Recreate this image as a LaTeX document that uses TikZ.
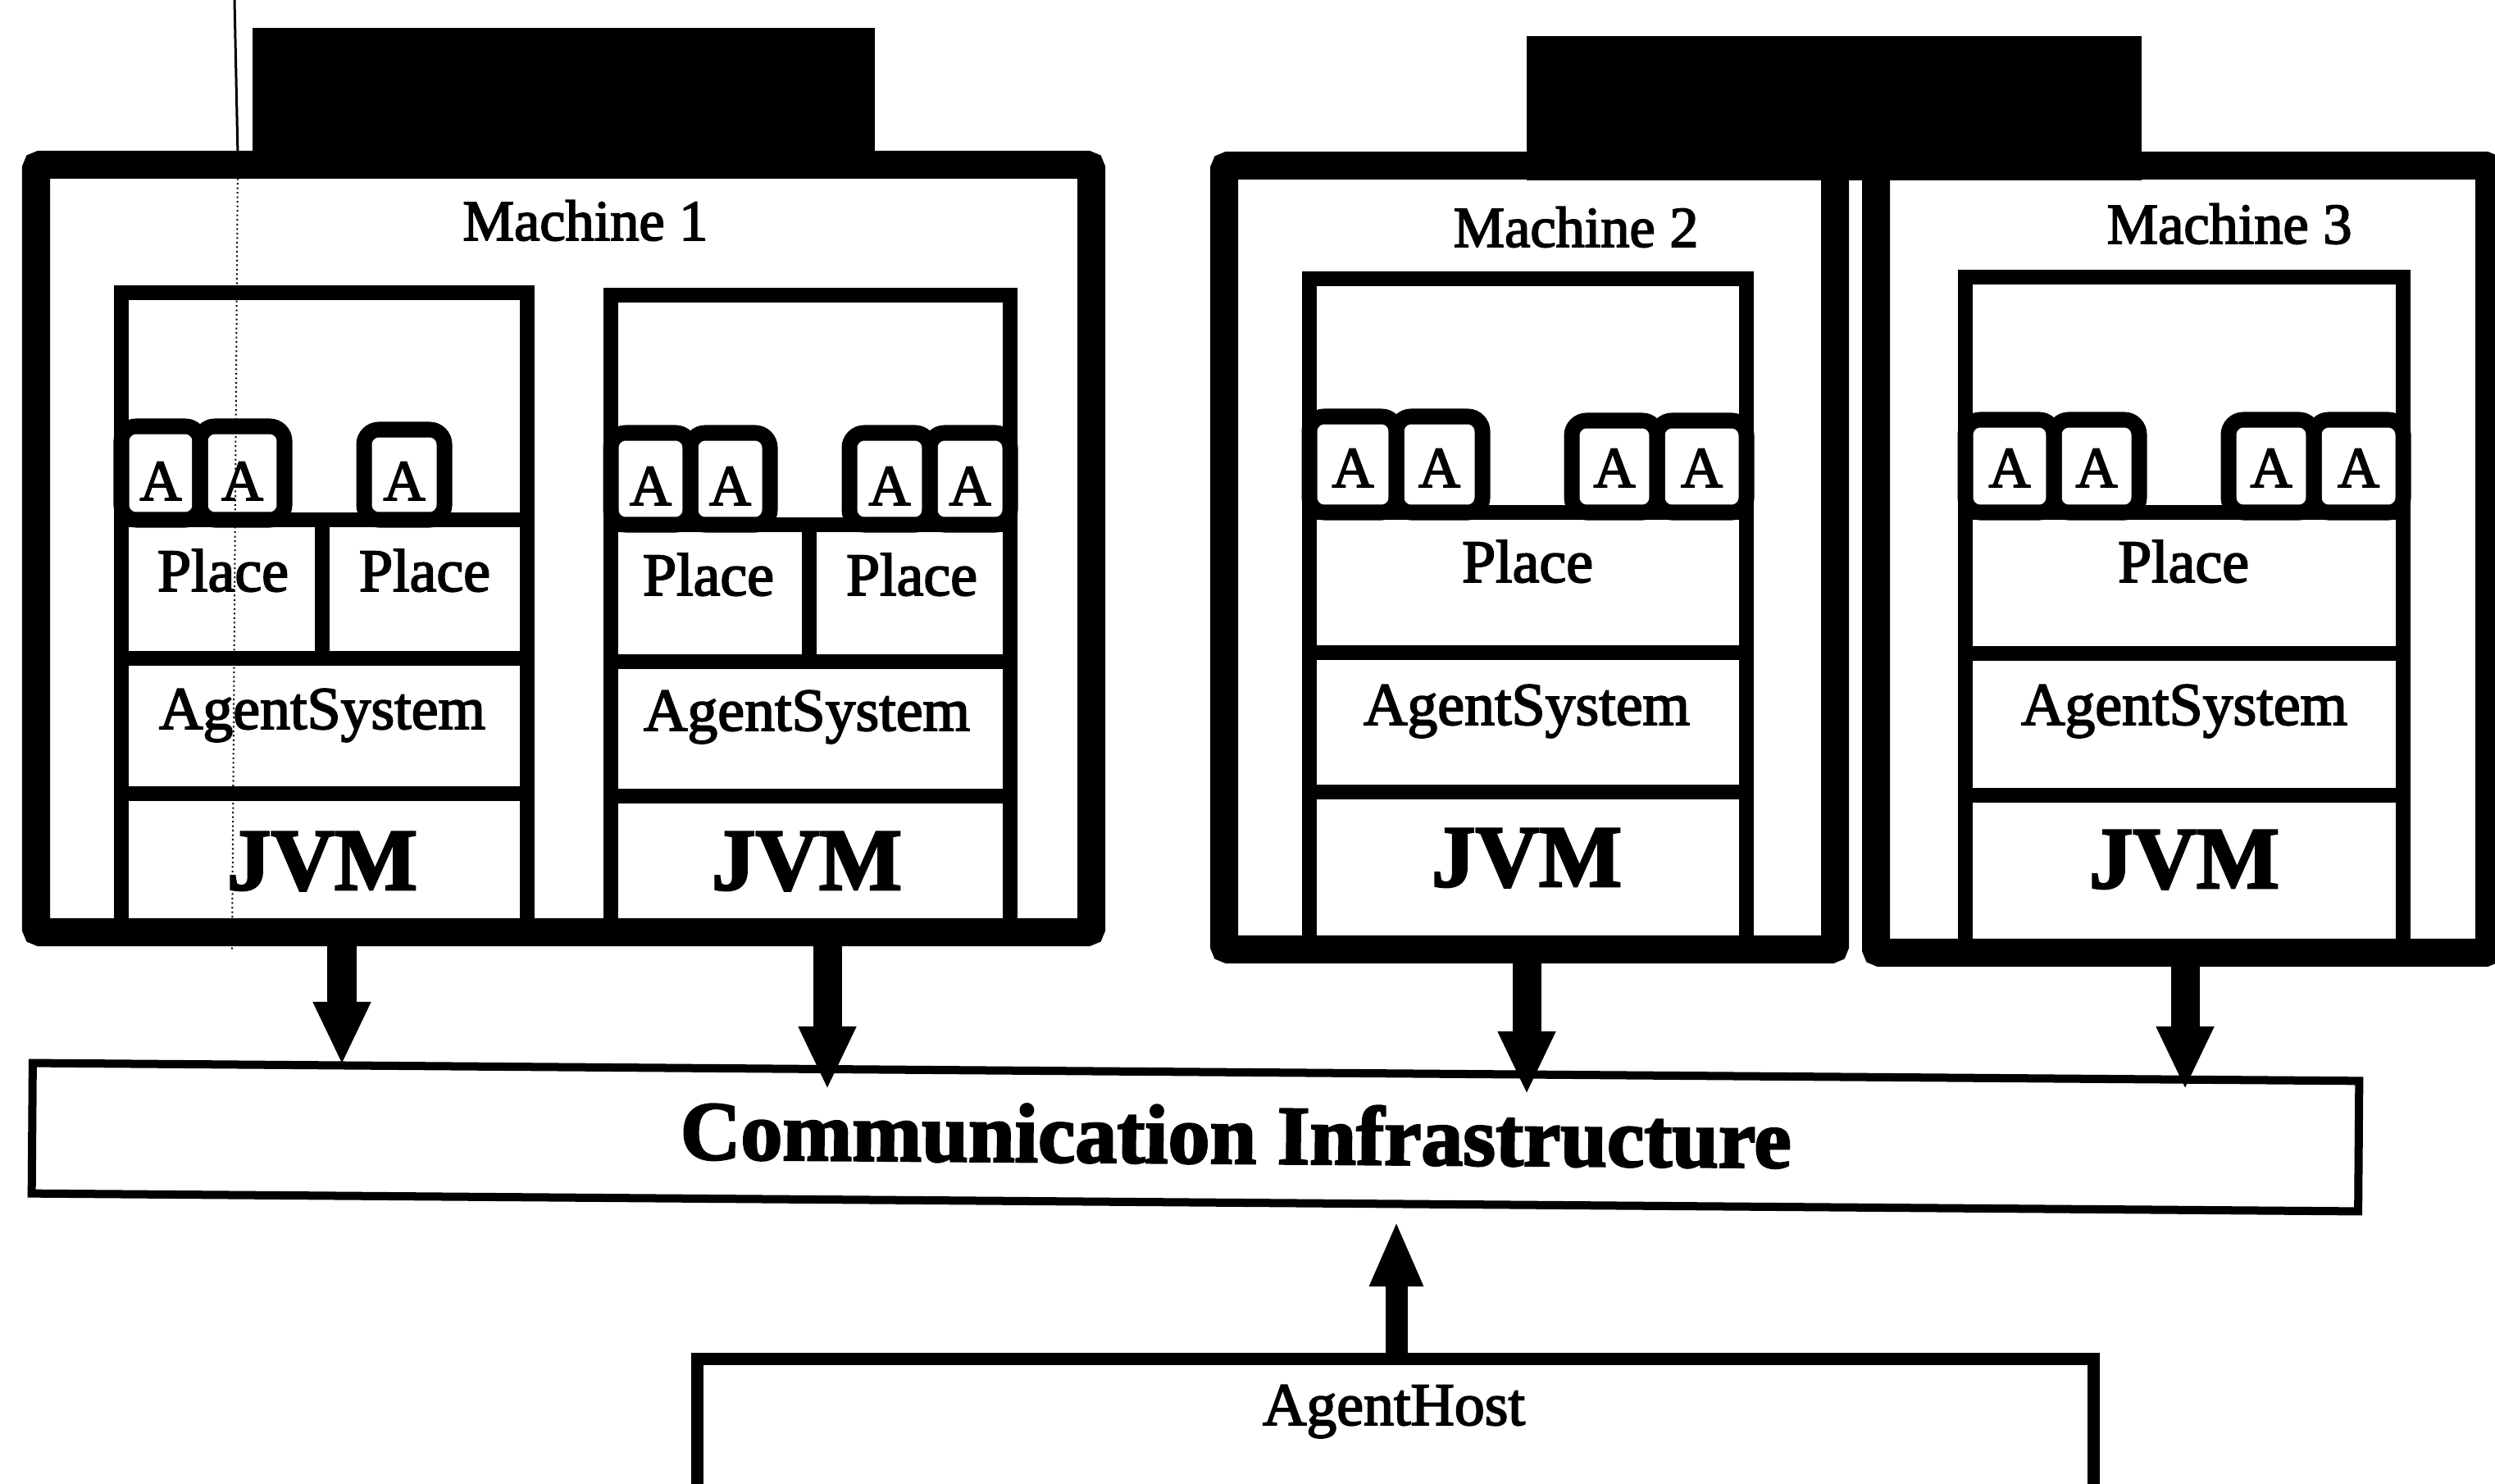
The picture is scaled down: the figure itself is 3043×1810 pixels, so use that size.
\documentclass[tikz,border=0pt]{standalone}
\usepackage{fontspec}
\setmainfont{Liberation Serif}
\newfontfamily\labfont{Liberation Serif}[FakeBold=2.5]
\usetikzlibrary{fit,arrows.meta}

% one agent: rounded box (name, left x, right x, top y, bottom y, text baseline)
\newcommand\agentbox[6]{%
  \node[agentshape, fit={(#2,#4) (#3,#5)}] (#1) {};
  \node[agenttext] (#1t) at ({(#2+#3)/2},#6) {A};}

\begin{document}
\begin{tikzpicture}[x=0.01cm,y=-0.01cm,
  machine/.style={draw, line width=0.34cm, rounded corners=0.05cm, inner sep=0pt},
  tabbar/.style={fill=black, draw=none, inner sep=0pt},
  stackbox/.style={draw, line width=0.18cm, inner sep=0pt},
  stackline/.style={line width=0.18cm},
  agentshape/.style={draw, line width=0.19cm, rounded corners=0.18cm, inner sep=0pt},
  agenttext/.style={anchor=base, inner sep=0pt, font=\labfont\fontsize{20}{21}\selectfont},
  lab/.style={anchor=base, inner sep=0pt, font=\labfont\fontsize{21}{24}\selectfont},
  mlab/.style={anchor=base, inner sep=0pt, font=\labfont\fontsize{20}{24}\selectfont},
  jvm/.style={anchor=base, inner sep=0pt, font=\labfont\bfseries\fontsize{30.5}{34}\selectfont},
  bus/.style={draw, line width=0.10cm, inner sep=0pt, minimum width=28.36cm, minimum height=1.59cm, rotate=-0.44},
  buslab/.style={anchor=base, inner sep=0pt, rotate=-0.44, font=\labfont\bfseries\fontsize{29}{32}\selectfont},
  host/.style={draw, line width=0.15cm, inner sep=0pt},
  down/.style={line width=0.35cm, -{Triangle[length=0.77cm,width=0.65cm]}},
  up/.style={line width=0.27cm, -{Triangle[length=0.80cm,width=0.60cm]}},
  crease/.style={line width=0.02cm, densely dotted}
]
\useasboundingbox (0,0) rectangle (3043,1810);
\clip (0,0) rectangle (3043,1810);

% ---------- machine frames ----------
\node[tabbar, fit={(308,34) (1067,205)}] (tab1) {};
\node[tabbar, fit={(1862,44) (2612,220)}] (tab2) {};
\node[machine, fit={(44,201) (1331,1137)}] (m1) {};
\node[machine, fit={(1493,202) (2238,1158)}] (m2) {};
\node[machine, fit={(2288,202) (3036,1162)}] (m3) {};
\node[mlab] (m1l) at (714,293) {Machine 1};
\node[mlab] (m2l) at (1922,301) {Machine 2};
\node[mlab] (m3l) at (2719,297) {Machine 3};

% ---------- stack 1 (machine 1, left) ----------
\node[stackbox, fit={(148,357) (643,1137)}] (s1) {};
\draw[stackline] (148,634) -- (643,634);
\draw[stackline] (148,803) -- (643,803);
\draw[stackline] (148,968) -- (643,968);
\draw[stackline] (393,634) -- (393,803);
\agentbox{a11}{148}{244}{520}{634}{610}
\agentbox{a12}{244}{347}{520}{634}{610}
\agentbox{a13}{444}{542}{524}{634}{610}
\node[lab] (p11) at (272,721) {Place};
\node[lab] (p12) at (518,721) {Place};
\node[lab] (as1) at (393,889) {AgentSystem};
\node[jvm] (j1) at (393,1085) {JVM};

% ---------- stack 2 (machine 1, right) ----------
\node[stackbox, fit={(745,360) (1232,1137)}] (s2) {};
\draw[stackline] (745,640) -- (1232,640);
\draw[stackline] (745,807) -- (1232,807);
\draw[stackline] (745,971) -- (1232,971);
\draw[stackline] (987,640) -- (987,807);
\agentbox{a21}{745}{842}{528}{640}{616}
\agentbox{a22}{842}{939}{528}{640}{616}
\agentbox{a23}{1036}{1134}{528}{640}{616}
\agentbox{a24}{1134}{1232}{528}{640}{616}
\node[lab] (p21) at (864,726) {Place};
\node[lab] (p22) at (1112,726) {Place};
\node[lab] (as2) at (984,891) {AgentSystem};
\node[jvm] (j2) at (984,1085) {JVM};

% ---------- stack 3 (machine 2) ----------
\node[stackbox, fit={(1597,340) (2130,1158)}] (s3) {};
\draw[stackline] (1597,625) -- (2130,625);
\draw[stackline] (1597,796) -- (2130,796);
\draw[stackline] (1597,966) -- (2130,966);
\agentbox{a31}{1597}{1703}{508}{625}{594}
\agentbox{a32}{1703}{1808}{508}{625}{594}
\agentbox{a33}{1917}{2021}{513}{625}{594}
\agentbox{a34}{2021}{2130}{513}{625}{594}
\node[lab] (p3) at (1863,710) {Place};
\node[lab] (as3) at (1862,884) {AgentSystem};
\node[jvm] (j3) at (1862,1081) {JVM};

% ---------- stack 4 (machine 3) ----------
\node[stackbox, fit={(2397,338) (2931,1162)}] (s4) {};
\draw[stackline] (2397,625) -- (2931,625);
\draw[stackline] (2397,797) -- (2931,797);
\draw[stackline] (2397,970) -- (2931,970);
\agentbox{a41}{2397}{2505}{512}{625}{594}
\agentbox{a42}{2505}{2609}{512}{625}{594}
\agentbox{a43}{2718}{2822}{512}{625}{594}
\agentbox{a44}{2822}{2931}{512}{625}{594}
\node[lab] (p4) at (2663,710) {Place};
\node[lab] (as4) at (2664,884) {AgentSystem};
\node[jvm] (j4) at (2664,1083) {JVM};

% ---------- communication layer and host ----------
\node[bus] (bus) at (1458,1387) {};
\node[buslab] (busl) at (1507,1419) {Communication Infrastructure};
\node[host, fit={(850,1657) (2553,1950)}] (host) {};
\node[lab] (hostl) at (1700,1738) {AgentHost};

% ---------- connectors ----------
\coordinate (d1) at (417,1299);
\coordinate (d2) at (1009,1329);
\coordinate (d3) at (1862,1335);
\coordinate (d4) at (2665,1329);
\coordinate (u1) at (1703,1489);
\draw[down] (m1.south -| d1) -- (d1);
\draw[down] (m1.south -| d2) -- (d2);
\draw[down] (m2.south -| d3) -- (d3);
\draw[down] (m3.south -| d4) -- (d4);
\draw[up] (host.north -| u1) -- (u1);

% ---------- fold mark across the first machine ----------
\draw[line width=0.03cm] (286,0) -- (290,190);
\draw[crease] (290,190) -- (283,1160);
\end{tikzpicture}
\end{document}
